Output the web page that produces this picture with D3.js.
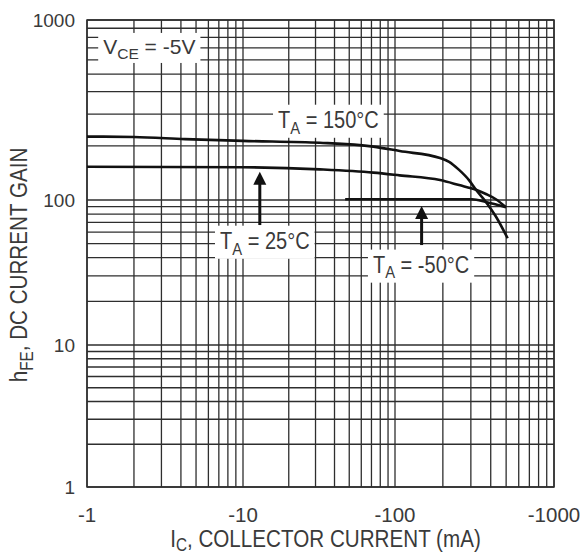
<!DOCTYPE html>
<html><head><meta charset="utf-8">
<script src="https://cdn.jsdelivr.net/npm/d3@7"></script>
<style>body{margin:0;background:#fff}</style>
</head><body>
<svg id="chart" width="581" height="557"></svg>
<script>
// |Ic| in mA and hFE for each ambient temperature (Vce = -5 V)
const icHot = [1, 2, 4.25, 10, 32, 72, 107, 192, 219, 253, 292, 323, 373, 431, 511];
const hfeHot = [225, 224, 218, 213, 208, 198, 187, 171, 163, 147, 129, 114, 97, 77, 54.5];
const icRoom = [1, 10, 32, 72, 107, 192, 253, 323, 373, 431, 499];
const hfeRoom = [153, 152, 148, 142, 137, 129, 121, 114, 108, 101, 89];
const icCold = [47, 107, 305, 373, 499];
const hfeCold = [101, 101, 101, 97, 89];

const xDecades = [1, 10, 100, 1000];
const yDecades = [1, 10, 100, 1000];
const xTickLabels = ["-1", "-10", "-100", "-1000"];
const yTickLabels = ["1", "10", "100", "1000"];

// annotation anchors, in data units (|Ic| mA, hFE)
const noteText = [
  [["V"], ["CE", 1], [" = -5V"]],
  [["T"], ["A", 1], [" = 150°C"]],
  [["T"], ["A", 1], [" = 25°C"]],
  [["T"], ["A", 1], [" = -50°C"]]
];
const noteIc = [1.27, 17.0, 7.12, 71.6];
const noteHfe = [648, 251, 45.9, 31.4];
const arrowIc = [12.9, 147];
const arrowFrom = [67.2, 48.9];
const arrowTo = [143.6, 90.9];

const svg = d3.select("#chart");
const FONT = "'Liberation Sans', Arial, Helvetica, sans-serif";
const ink = "#3a3a3a";

// decade-wise log scales
const x = d3.scaleLog().domain(xDecades).range([87, 243, 395, 554]);
const y = d3.scaleLog().domain(yDecades).range([487, 345, 200, 20]);
const [x0, x1] = [x(1), x(1000)];
const [y0, y1] = [y(1), y(1000)];

const gridLayer = svg.append("g");
const boxLayer = svg.append("g");
const curveLayer = svg.append("g");
const textLayer = svg.append("g");

// log grid: every integer multiple inside each decade
gridLayer.selectAll("line.v").data(x.ticks()).join("line")
  .attr("x1", d => x(d)).attr("x2", d => x(d))
  .attr("y1", y1).attr("y2", y0)
  .attr("stroke", "#2e2e2e").attr("stroke-width", 1.3);
gridLayer.selectAll("line.h").data(y.ticks()).join("line")
  .attr("y1", d => y(d)).attr("y2", d => y(d))
  .attr("x1", x0).attr("x2", x1)
  .attr("stroke", "#2e2e2e").attr("stroke-width", 1.3);
gridLayer.append("rect")
  .attr("x", x0).attr("y", y1).attr("width", x1 - x0).attr("height", y0 - y1)
  .attr("fill", "none").attr("stroke", "#2e2e2e").attr("stroke-width", 1.5);

// tick labels
textLayer.selectAll("text.xt").data(xDecades).join("text")
  .attr("x", d => x(d)).attr("y", y0 + 35)
  .attr("text-anchor", "middle").attr("font-family", FONT).attr("font-size", 20.5)
  .attr("fill", ink).text((d, i) => xTickLabels[i]);
textLayer.selectAll("text.yt").data(yDecades).join("text")
  .attr("x", x0 - 12).attr("y", d => y(d)).attr("dy", "0.36em")
  .attr("text-anchor", "end").attr("font-family", FONT).attr("font-size", 19)
  .attr("fill", ink).text((d, i) => yTickLabels[i]);

// text with subscripts, optionally condensed along the baseline
function rich(parent, parts, size, sx, anchor, drop) {
  const shift = size * (drop || 0.24);
  const t = parent.append("text")
    .attr("font-family", FONT).attr("font-size", size).attr("fill", ink)
    .attr("transform", `scale(${sx},1)`)
    .attr("text-anchor", anchor || "start");
  let sub = false;
  parts.forEach(p => {
    const isSub = !!p[1];
    const dy = isSub && !sub ? shift : (!isSub && sub ? -shift : 0);
    t.append("tspan").attr("dy", dy).attr("font-size", isSub ? size * 0.74 : size).text(p[0]);
    sub = isSub;
  });
  return t;
}

// axis titles
const xTitle = textLayer.append("g").attr("transform", `translate(${(x0 + x1) / 2 + 5},547)`);
rich(xTitle, [["I"], ["C", 1], [", COLLECTOR CURRENT (mA)"]], 24, 0.86, "middle", 0.18);
const yTitle = textLayer.append("g").attr("transform", `translate(27,265) rotate(-90)`);
rich(yTitle, [["h"], ["FE", 1], [", DC CURRENT GAIN"]], 24, 0.86, "middle");

// annotation labels on white patches that interrupt the grid
noteText.forEach((parts, i) => {
  const g = textLayer.append("g").attr("transform", `translate(${x(noteIc[i])},${y(noteHfe[i])})`);
  if (i === 0) rich(g, parts, 21, 1.0);
  else rich(g, parts, 23, 0.87);
  const b = g.node().getBBox();
  boxLayer.append("rect")
    .attr("x", x(noteIc[i]) + b.x - 5).attr("y", y(noteHfe[i]) + b.y - 2)
    .attr("width", b.width + 10).attr("height", b.height + 3)
    .attr("fill", "#fff");
});

// gain curves
const line = d3.line().x(d => x(d[0])).y(d => y(d[1])).curve(d3.curveMonotoneX);
[[icHot, hfeHot], [icRoom, hfeRoom], [icCold, hfeCold]].forEach(([ic, h]) => {
  curveLayer.append("path")
    .datum(ic.map((v, i) => [v, h[i]]))
    .attr("d", line)
    .attr("fill", "none").attr("stroke", "#111").attr("stroke-width", 2.6)
    .attr("stroke-linejoin", "round");
});

// pointer arrows
arrowIc.forEach((ic, i) => {
  const ax = x(ic), ya = y(arrowFrom[i]), yb = y(arrowTo[i]);
  curveLayer.append("line")
    .attr("x1", ax).attr("x2", ax).attr("y1", ya).attr("y2", yb + 10)
    .attr("stroke", "#111").attr("stroke-width", 3);
  curveLayer.append("path")
    .attr("d", `M${ax},${yb} L${ax - 6.5},${yb + 13} L${ax + 6.5},${yb + 13} Z`)
    .attr("fill", "#111");
});
</script>
</body></html>
